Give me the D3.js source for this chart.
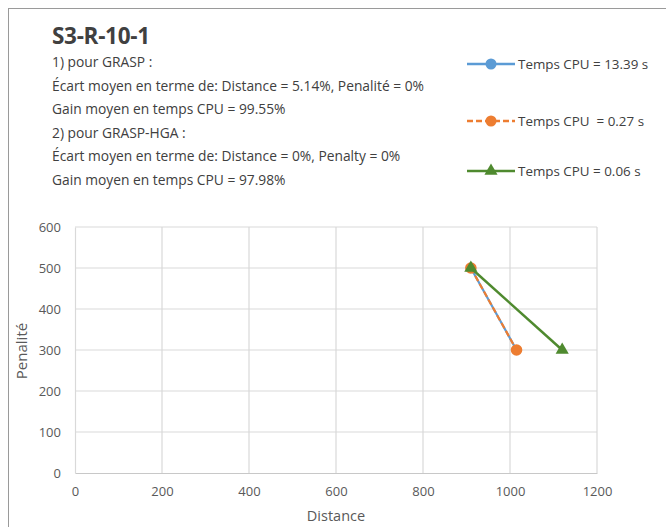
<!DOCTYPE html>
<html>
<head>
<meta charset="utf-8">
<script src="https://cdn.jsdelivr.net/npm/d3@7"></script>
<style>
  body { margin: 0; background: #fff; }
  svg { font-family: "Open Sans", "Noto Sans", sans-serif; }
  text { white-space: pre; }
</style>
</head>
<body>
<svg id="chart" width="666" height="527"></svg>
<script>
// chart values
var title = "S3-R-10-1";
var notes = [
  "1) pour GRASP :",
  "\u00C9cart moyen en terme de: Distance = 5.14%, Penalit\u00E9 = 0%",
  "Gain moyen en temps CPU = 99.55%",
  "2) pour GRASP-HGA :",
  "\u00C9cart moyen en terme de: Distance = 0%, Penalty = 0%",
  "Gain moyen en temps CPU = 97.98%"
];
var seriesNames = ["Temps CPU = 13.39 s", "Temps CPU  = 0.27 s", "Temps CPU = 0.06 s"];
var grasp = [{x: 910, y: 500}, {x: 1015, y: 300}];
var graspHga = [{x: 910, y: 500}, {x: 1015, y: 300}];
var exact = [{x: 910, y: 500}, {x: 1120, y: 300}];
var xTicks = [0, 200, 400, 600, 800, 1000, 1200];
var yTicks = [0, 100, 200, 300, 400, 500, 600];

var svg = d3.select("#chart");

// frame
svg.append("rect").attr("x", 8.5).attr("y", 8.5).attr("width", 670).attr("height", 530)
  .attr("fill", "none").attr("stroke", "#9a9a9a");

svg.append("text").attr("x", 52).attr("y", 44)
  .attr("font-size", 22.5).attr("font-weight", "bold").attr("fill", "#404040")
  .attr("letter-spacing", -0.3)
  .text(title);

svg.selectAll(".note").data(notes).enter().append("text")
  .attr("class", "note")
  .attr("x", 52).attr("y", function(d, i) { return 67 + i * 23.6; })
  .attr("font-size", 13.8).attr("fill", "#404040")
  .text(function(d) { return d; });

var x = d3.scaleLinear().domain([0, 1200]).range([75, 597]);
var y = d3.scaleLinear().domain([0, 600]).range([473, 227]);

// grid
svg.append("g").selectAll("line").data(yTicks.slice(1)).enter().append("line")
  .attr("x1", x(0)).attr("x2", x(1200))
  .attr("y1", function(d) { return y(d); }).attr("y2", function(d) { return y(d); })
  .attr("stroke", "#d9d9d9").attr("stroke-width", 1.2);
svg.append("g").selectAll("line").data(xTicks.slice(1)).enter().append("line")
  .attr("y1", y(0)).attr("y2", y(600))
  .attr("x1", function(d) { return x(d); }).attr("x2", function(d) { return x(d); })
  .attr("stroke", "#d9d9d9").attr("stroke-width", 1.2);

var xAxis = svg.append("g").attr("transform", "translate(0," + y(0) + ")")
  .call(d3.axisBottom(x).tickValues(xTicks).tickFormat(d3.format("d")).tickSize(0).tickPadding(14));
var yAxis = svg.append("g").attr("transform", "translate(" + x(0) + ",0)")
  .call(d3.axisLeft(y).tickValues(yTicks).tickFormat(d3.format("d")).tickSize(0).tickPadding(14));
xAxis.select(".domain").attr("stroke", "#c8c8c8").attr("stroke-width", 1.2);
yAxis.select(".domain").attr("stroke", "#d9d9d9").attr("stroke-width", 1.2);
svg.selectAll(".tick text").attr("font-size", 13).attr("fill", "#595959")
  .attr("font-family", "'Open Sans', sans-serif");

svg.append("text").attr("x", 336).attr("y", 521).attr("text-anchor", "middle")
  .attr("font-size", 14.5).attr("fill", "#595959").text("Distance");
svg.append("text").attr("transform", "translate(27,351) rotate(-90)")
  .attr("text-anchor", "middle").attr("font-size", 15).attr("fill", "#595959")
  .text("Penalit\u00E9");

var line = d3.line().x(function(d) { return x(d.x); }).y(function(d) { return y(d.y); });
var colors = ["#5b9bd5", "#ed7d31", "#4f8a2f"];

// series 1
svg.append("path").datum(grasp).attr("d", line).attr("fill", "none")
  .attr("stroke", colors[0]).attr("stroke-width", 2.2);
svg.selectAll(".p1").data(grasp).enter().append("circle")
  .attr("cx", function(d) { return x(d.x); }).attr("cy", function(d) { return y(d.y); })
  .attr("r", 5).attr("fill", colors[0]);

// series 2
svg.append("path").datum(graspHga).attr("d", line).attr("fill", "none")
  .attr("stroke", colors[1]).attr("stroke-width", 2.2).attr("stroke-dasharray", "6,3");
svg.selectAll(".p2").data(graspHga).enter().append("circle")
  .attr("cx", function(d) { return x(d.x); }).attr("cy", function(d) { return y(d.y); })
  .attr("r", 5.8).attr("fill", colors[1]);

// series 3
var tri = d3.symbol().type(d3.symbolTriangle).size(75);
svg.append("path").datum(exact).attr("d", line).attr("fill", "none")
  .attr("stroke", colors[2]).attr("stroke-width", 2.5);
svg.selectAll(".p3").data(exact).enter().append("path")
  .attr("transform", function(d) { return "translate(" + x(d.x) + "," + y(d.y) + ")"; })
  .attr("d", tri).attr("fill", colors[2]);

// legend
var legY = [64, 121, 171];
var leg = svg.selectAll(".leg").data(seriesNames).enter().append("g")
  .attr("transform", function(d, i) { return "translate(467," + legY[i] + ")"; });
leg.append("line").attr("x1", 0).attr("x2", 48).attr("y1", 0).attr("y2", 0)
  .attr("stroke", function(d, i) { return colors[i]; }).attr("stroke-width", 2.5)
  .attr("stroke-dasharray", function(d, i) { return i === 1 ? "6,3" : null; });
leg.each(function(d, i) {
  var g = d3.select(this);
  if (i === 2) {
    g.append("path").attr("transform", "translate(24,0)").attr("d", tri).attr("fill", colors[i]);
  } else {
    g.append("circle").attr("cx", 24).attr("cy", 0).attr("r", 5.5).attr("fill", colors[i]);
  }
});
leg.append("text").attr("x", 51).attr("y", 5).attr("font-size", 13.4).attr("fill", "#404040")
  .text(function(d) { return d; });
</script>
</body>
</html>
